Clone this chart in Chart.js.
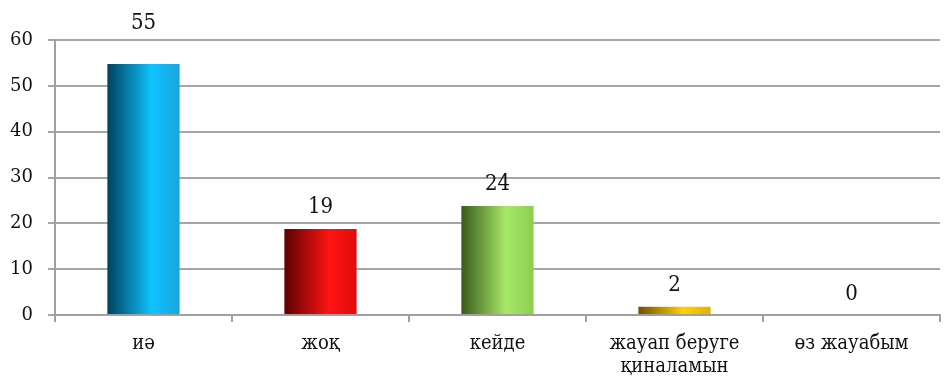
<!DOCTYPE html>
<html>
<head>
<meta charset="utf-8">
<script src="https://cdn.jsdelivr.net/npm/chart.js@4.4.0/dist/chart.umd.min.js"></script>
<style>
  html, body { margin: 0; padding: 0; background: #fff; }
  #wrap { width: 949px; height: 378px; }
</style>
</head>
<body>
<div id="wrap"><canvas id="chart"></canvas></div>
<script>
// Категориялар мен мәндер
const categories = ["иә", "жоқ", "кейде", ["жауап беруге", "қиналамын"], "өз жауабым"];
const answers = [55, 19, 24, 2, 0];
const yTicks = [0, 10, 20, 30, 40, 50, 60];

// Әр бағанның градиент түстері: сол жақ (күңгірт), ортасы (жарық), оң жақ
const barShades = [
  ["#00405c", "#0ec4ff", "#1aa4dc"],
  ["#5c0000", "#ff1414", "#e00c0c"],
  ["#3a5a1c", "#a8e868", "#8ccc52"],
  ["#6e5000", "#ffd200", "#e0b200"],
  ["#555555", "#cccccc", "#aaaaaa"],
];

const TICK_FONT = { family: "'DejaVu Serif', serif", size: 18 };
const CAT_FONT = { family: "'DejaVu Serif Condensed', 'DejaVu Serif', serif", size: 20, lineHeight: 1.12 };
const VALUE_FONT = "22px 'DejaVu Serif Condensed', 'DejaVu Serif', serif";
const barFrac = 0.41;

function barGradient(ctx) {
  const chart = ctx.chart;
  const shades = barShades[ctx.dataIndex] || barShades[0];
  if (!chart.chartArea) return shades[1];
  const xScale = chart.scales.x;
  const cx = xScale.getPixelForValue(ctx.dataIndex);
  const w = xScale.width / categories.length * barFrac;
  const g = chart.ctx.createLinearGradient(cx - w / 2, 0, cx + w / 2, 0);
  g.addColorStop(0, shades[0]);
  g.addColorStop(0.62, shades[1]);
  g.addColorStop(1, shades[2]);
  return g;
}

// Бағандардың үстіне мән жазу
const valueLabels = {
  id: "valueLabels",
  afterDatasetsDraw(chart) {
    const c = chart.ctx;
    const meta = chart.getDatasetMeta(0);
    c.save();
    c.font = VALUE_FONT;
    c.fillStyle = "#111";
    c.textAlign = "center";
    c.textBaseline = "middle";
    meta.data.forEach((bar, i) => {
      let y = bar.y - 21;
      // жоғарғы тор сызығымен қабаттаспасын
      if (y < chart.chartArea.top + 10) y = chart.chartArea.top - 17;
      c.fillText(String(answers[i]), bar.x, y);
    });
    c.restore();
  }
};

new Chart(document.getElementById("chart"), {
  type: "bar",
  data: {
    labels: categories,
    datasets: [{
      data: answers,
      backgroundColor: barGradient,
      borderColor: "rgba(255,255,255,0.7)",
      borderWidth: { top: 1, left: 0, right: 0, bottom: 0 },
      borderSkipped: "bottom",
      categoryPercentage: 1,
      barPercentage: barFrac,
    }],
  },
  options: {
    responsive: true,
    maintainAspectRatio: false,
    animation: false,
    layout: { padding: { left: 9, right: 9, top: 40, bottom: 0 } },
    plugins: { legend: { display: false }, tooltip: { enabled: false } },
    scales: {
      x: {
        afterFit(axis) { axis.height = 63; },
        grid: { drawOnChartArea: false, drawTicks: true, tickLength: 7, color: "#a0a0a0", lineWidth: 2, offset: true },
        border: { color: "#a0a0a0", width: 2 },
        ticks: { color: "#111", font: CAT_FONT, padding: 11, maxRotation: 0, autoSkip: false },
      },
      y: {
        min: 0,
        max: 60,
        afterFit(axis) { axis.width = 46; },
        afterBuildTicks(axis) { axis.ticks = yTicks.map(v => ({ value: v })); },
        grid: { color: "#a6a6a6", lineWidth: 2, tickLength: 7 },
        border: { color: "#a0a0a0", width: 2 },
        ticks: { color: "#111", font: TICK_FONT, padding: 15 },
      },
    },
  },
  plugins: [valueLabels],
});
</script>
</body>
</html>
